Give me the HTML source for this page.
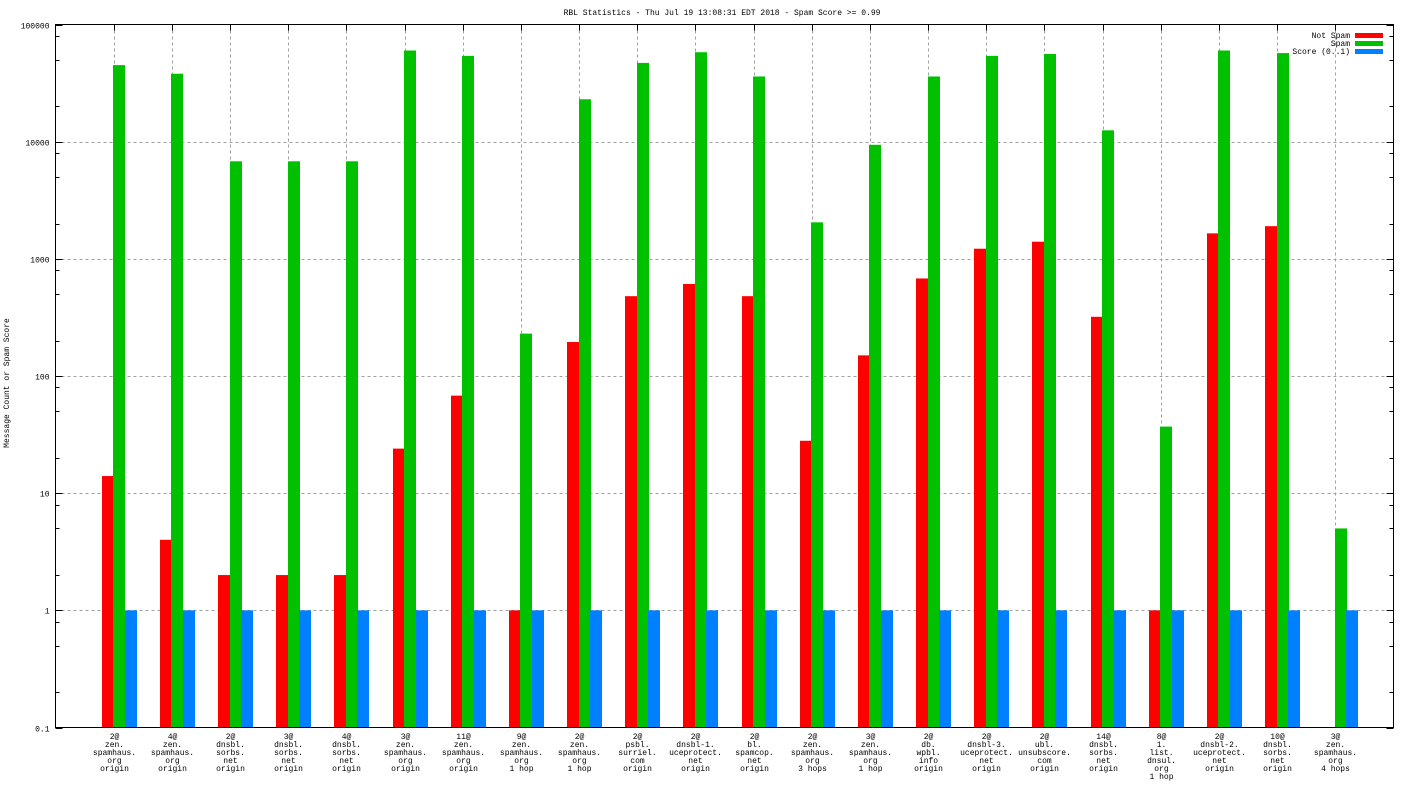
<!DOCTYPE html>
<html><head><meta charset="utf-8"><style>
html,body{margin:0;padding:0;background:#fff;}
svg text{font-family:"Liberation Mono","DejaVu Sans Mono",monospace;font-size:8px;fill:#000;}
</style></head><body>
<svg id="chart" width="1408" height="792" xmlns="http://www.w3.org/2000/svg"></svg>
<script>
const categories=[
["2@","zen.","spamhaus.","org","origin"],["4@","zen.","spamhaus.","org","origin"],
["2@","dnsbl.","sorbs.","net","origin"],["3@","dnsbl.","sorbs.","net","origin"],
["4@","dnsbl.","sorbs.","net","origin"],["3@","zen.","spamhaus.","org","origin"],
["11@","zen.","spamhaus.","org","origin"],["9@","zen.","spamhaus.","org","1 hop"],
["2@","zen.","spamhaus.","org","1 hop"],["2@","psbl.","surriel.","com","origin"],
["2@","dnsbl-1.","uceprotect.","net","origin"],["2@","bl.","spamcop.","net","origin"],
["2@","zen.","spamhaus.","org","3 hops"],["3@","zen.","spamhaus.","org","1 hop"],
["2@","db.","wpbl.","info","origin"],["2@","dnsbl-3.","uceprotect.","net","origin"],
["2@","ubl.","unsubscore.","com","origin"],["14@","dnsbl.","sorbs.","net","origin"],
["8@","1.","list.","dnsul.","org","1 hop"],["2@","dnsbl-2.","uceprotect.","net","origin"],
["10@","dnsbl.","sorbs.","net","origin"],["3@","zen.","spamhaus.","org","4 hops"]];
const notSpam=[14,4,2,2,2,24,68,1,195,480,610,480,28,150,680,1220,1400,320,1,1650,1900,null];
const spam=[45000,38000,6800,6800,6800,60000,54000,230,23000,47000,58000,36000,2050,9400,36000,54000,56000,12500,37,60000,57000,5];
const score=[1,1,1,1,1,1,1,1,1,1,1,1,1,1,1,1,1,1,1,1,1,1];
const yTicks=[0.1,1,10,100,1000,10000,100000];
const yTickLabels=["0.1","1","10","100","1000","10000","100000"];
const minorMultipliers=[2,5,8];

const svg=document.getElementById('chart');
const NS="http://www.w3.org/2000/svg";
const L=55.5,R=1393.5,T=24.5,B=727.5;
const yMin=-1,yMax=5;
function y(v){return B-(Math.log10(v)-yMin)/(yMax-yMin)*(B-T);}
const step=(R-L)/(categories.length+1);
function x(i){return L+(i+1)*step;}
function mk(tag,attrs,name,txt){const e=document.createElementNS(NS,tag);for(const k in attrs)e.setAttribute(k,attrs[k]);


if(txt!==undefined)e.textContent=txt;svg.appendChild(e);return e;}

mk('text',{x:722,y:15,'text-anchor':'middle'},'chart-title','RBL Statistics - Thu Jul 19 13:08:31 EDT 2018 - Spam Score >= 0.99');
mk('text',{x:9,y:383,'text-anchor':'middle',transform:'rotate(-90 9 383)'},'y-axis-title','Message Count or Spam Score');

yTicks.forEach((t,k)=>{const yy=Math.round(y(t))+0.5;
 if(k>0&&k<yTicks.length-1)mk('line',{x1:L,x2:R,y1:yy,y2:yy,stroke:'#a0a0a0','stroke-dasharray':'3,3','stroke-width':1},'y-gridline');
 mk('line',{x1:L,x2:L+7,y1:yy,y2:yy,stroke:'#000'},'y-tick');
 mk('line',{x1:R-7,x2:R,y1:yy,y2:yy,stroke:'#000'},'y-tick-right');
 mk('text',{x:L-6,y:yy+3,'text-anchor':'end'},'y-tick-label',yTickLabels[k]);
 if(k<yTicks.length-1)minorMultipliers.forEach(m=>{const my=Math.round(y(t*m))+0.5;
  mk('line',{x1:L,x2:L+4,y1:my,y2:my,stroke:'#000'},'y-minor-tick');
  mk('line',{x1:R-4,x2:R,y1:my,y2:my,stroke:'#000'},'y-minor-tick-right');});
});
categories.forEach((c,i)=>{const cx=Math.round(x(i))+0.5;
 mk('line',{x1:cx,x2:cx,y1:T,y2:B,stroke:'#a0a0a0','stroke-dasharray':'3,3'},'x-gridline');
 mk('line',{x1:cx,x2:cx,y1:T,y2:T+6,stroke:'#000'},'x-tick');
 mk('line',{x1:cx,x2:cx,y1:B-6,y2:B,stroke:'#000'},'x-tick-bottom');
 c.forEach((ln,j)=>mk('text',{x:cx,y:739+j*8,'text-anchor':'middle'},'x-tick-label',ln));
});
const series=[[notSpam,'#ff0000','bar-not-spam',-12],[spam,'#00c000','bar-spam',-0.5],[score,'#0080ff','bar-score',11]];
series.forEach(([arr,col,name,off])=>{arr.forEach((v,i)=>{if(v==null)return;
 const x0=Math.round(x(i)+off);const yt=y(v);
 mk('rect',{x:x0,y:yt,width:12,height:B-yt,fill:col},name);});});
mk('rect',{x:L,y:T,width:R-L,height:B-T,fill:'none',stroke:'#000'},'plot-frame');
const leg=[['Not Spam','#ff0000'],['Spam','#00c000'],['Score (0..1)','#0080ff']];
leg.forEach((l,k)=>{const ly=35+k*8;
 mk('text',{x:1350,y:ly+3,'text-anchor':'end'},'legend-label',l[0]);
 mk('rect',{x:1355,y:ly-2,width:28,height:5,fill:l[1]},'legend-swatch');});
</script>
</body></html>
